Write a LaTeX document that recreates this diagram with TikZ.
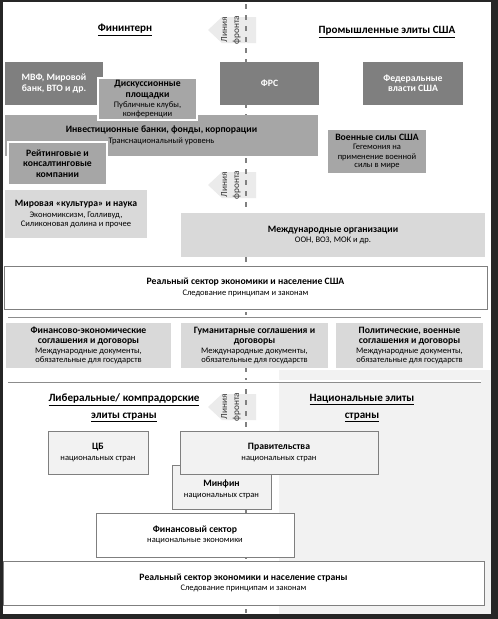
\documentclass[tikz,border=0pt]{standalone}
\usepackage{fontspec}
\setmainfont{Carlito}
\usetikzlibrary{positioning}

\definecolor{boxdark}{HTML}{7F7F7F}
\definecolor{boxmid}{HTML}{A6A6A6}
\definecolor{boxlight}{HTML}{D9D9D9}
\definecolor{boxpale}{HTML}{F2F2F2}
\definecolor{edgegray}{HTML}{7F7F7F}
\definecolor{frontgray}{HTML}{EBEBEB}

\newcommand{\hd}[1]{{\fontsize{9.7}{10.7}\selectfont\bfseries #1}}
\newcommand{\sm}{\fontsize{8.5}{9}\selectfont}
\newcommand{\headfont}{\fontsize{11.1}{17}\selectfont\bfseries}

\tikzset{
  block/.style={inner sep=0pt, align=center, font=\sm},
  darkbox/.style={block, fill=boxdark, text=white},
  midbox/.style={block, fill=boxmid, draw=white, line width=1.5pt},
  lightbox/.style={block, fill=boxlight},
  palebox/.style={block, fill=boxpale, draw=edgegray, line width=1pt},
  whitebox/.style={block, fill=white, draw=edgegray, line width=1pt},
  heading/.style={align=center, font=\headfont},
  fronttext/.style={rotate=90, align=center, font=\fontsize{9.3}{12}\selectfont, text=black!80},
  frontline/.style={draw=black!50, line width=1.1pt, dash pattern=on 5pt off 6pt},
  dblline/.style={draw=black!45, line width=0.7pt, double distance=1.6pt}
}

\begin{document}
\begin{tikzpicture}[x=1pt,y=-1pt]
  \useasboundingbox (0,0) rectangle (498,619);
  % Frame and shaded area
  \fill[black!85] (0,0) rectangle (498,619);
  \fill[white] (3,2) rectangle (491,614);
  \fill[boxpale] (279,370) rectangle (491,614);

  % Front line markers
  \foreach \fy/\fn in {30/fronta,185/frontb,407/frontc}{
    \fill[frontgray] (208,\fy) -- ++(14,-13) -- ++(34,0) -- ++(0,26) -- ++(-34,0) -- cycle;
    \node[fronttext] (\fn) at (231,\fy) {Линия\\фронта};
  }
  \coordinate (ftop) at (246,4);
  \coordinate (fbot) at (246,613);
  \draw[frontline] (ftop) -- (fbot);

  % Headings, upper half
  \node[heading] (fin) at (125,30) {\underline{Фининтерн}};
  \node[heading] (ind) at (387,32) {\underline{Промышленные элиты США}};

  % Upper row
  \node[darkbox, minimum width=98pt, minimum height=43pt] (mvf) at (54,83.5)
    {\hd{МВФ, Мировой}\\[1.5pt]\hd{банк, ВТО и др.}};
  \node[darkbox, minimum width=99pt, minimum height=43pt] (frs) at (269.5,83.5) {\hd{ФРС}};
  \node[darkbox, minimum width=100pt, minimum height=43pt] (fed) at (413,83.5)
    {\hd{Федеральные}\\[1.5pt]\hd{власти США}};
  \node[block, fill=boxmid, minimum width=313pt, minimum height=41pt] (inv) at (161.5,135.5)
    {\hd{Инвестиционные банки, фонды, корпорации}\\[1.5pt]Транснациональный уровень};
  \node[midbox, minimum width=99pt, minimum height=42pt] (disc) at (147.5,99)
    {\hd{Дискуссионные}\\[1.5pt]\hd{площадки}\\[1pt]Публичные клубы,\\конференции};
  \node[midbox, minimum width=99pt, minimum height=43pt] (rate) at (57.5,163.5)
    {\hd{Рейтинговые и}\\[1.5pt]\hd{консалтинговые}\\[1.5pt]\hd{компании}};
  \node[block, fill=boxmid, minimum width=98pt, minimum height=43pt] (mil) at (377,151.5)
    {\hd{Военные силы США}\\[1pt]Гегемония на\\применение военной\\силы в мире};
  \node[lightbox, minimum width=142pt, minimum height=48pt] (cult) at (76,214)
    {\hd{Мировая «культура» и наука}\\[1.5pt]Экономиксизм, Голливуд,\\Силиконовая долина и прочее};
  \node[lightbox, minimum width=304pt, minimum height=44pt] (intl) at (333,235)
    {\hd{Международные организации}\\[1.5pt]ООН, ВОЗ, МОК и др.};
  \node[whitebox, minimum width=483pt, minimum height=43pt] (realusa) at (245.5,287.5)
    {\hd{Реальный сектор экономики и население США}\\[1.5pt]Следование принципам и законам};

  % Agreements band
  \coordinate (dal) at (8,316);
  \coordinate (dar) at (481,316);
  \draw[dblline] (dal) -- (dar);
  \node[lightbox, minimum width=165pt, minimum height=45pt] (agrfin) at (88.5,345.5)
    {\hd{Финансово-экономические}\\[1.7pt]\hd{соглашения и договоры}\\[1pt]Международные документы,\\обязательные для государств};
  \node[lightbox, minimum width=147pt, minimum height=45pt] (agrhum) at (254.5,345.5)
    {\hd{Гуманитарные соглашения и}\\[1.7pt]\hd{договоры}\\[1pt]Международные документы,\\обязательные для государств};
  \node[lightbox, minimum width=147pt, minimum height=45pt] (agrpol) at (409.5,345.5)
    {\hd{Политические, военные}\\[1.7pt]\hd{соглашения и договоры}\\[1pt]Международные документы,\\обязательные для государств};
  \coordinate (dbl) at (8,381);
  \coordinate (dbr) at (481,381);
  \draw[dblline] (dbl) -- (dbr);

  % Lower half
  \node[heading] (lib) at (124,408) {\underline{Либеральные/ компрадорские}\\\underline{элиты страны}};
  \node[heading] (nat) at (362,408) {\underline{Национальные элиты}\\\underline{страны}};
  \node[palebox, minimum width=100pt, minimum height=43pt] (cb) at (98,452.5)
    {\hd{ЦБ}\\[1.5pt]национальных стран};
  \node[palebox, minimum width=99pt, minimum height=44pt] (minfin) at (221.5,487)
    {\\[2pt]\hd{Минфин}\\[1.5pt]национальных стран};
  \node[palebox, minimum width=198pt, minimum height=43pt] (gov) at (279,452.5)
    {\hd{Правительства}\\[1.5pt]национальных стран};
  \node[whitebox, minimum width=198pt, minimum height=44pt] (finsec) at (195,535)
    {\hd{Финансовый сектор}\\[1.5pt]национальные экономики};
  \node[whitebox, minimum width=481pt, minimum height=44pt] (realnat) at (243.5,583)
    {\hd{Реальный сектор экономики и население страны}\\[1.5pt]Следование принципам и законам};
\end{tikzpicture}
\end{document}
